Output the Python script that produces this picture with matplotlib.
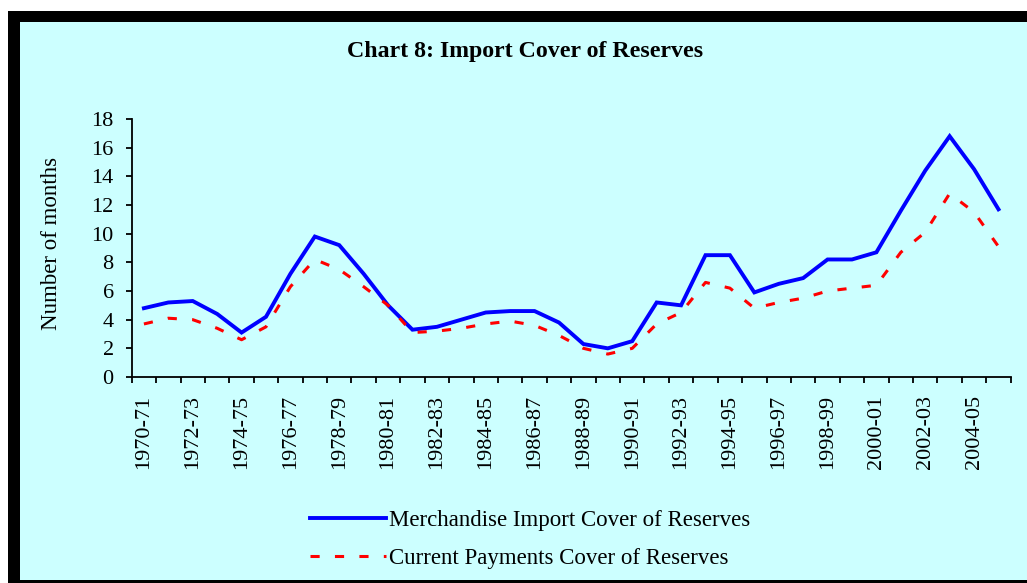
import numpy as np
import matplotlib
matplotlib.use('Agg')
import matplotlib.pyplot as plt
from matplotlib.patches import Rectangle

# fiscal years 1970-71 .. 2005-06
years = [f'{y}-{str(y + 1)[-2:]}' for y in range(1970, 2006)]

merchandise = [4.8, 5.2, 5.3, 4.4, 3.1, 4.2, 7.2, 9.8, 9.2, 7.2,
               5.0, 3.3, 3.5, 4.0, 4.5, 4.6, 4.6, 3.8, 2.3, 2.0,
               2.5, 5.2, 5.0, 8.5, 8.5, 5.9, 6.5, 6.9, 8.2, 8.2,
               8.7, 11.6, 14.4, 16.8, 14.5, 11.7]
current_payments = [3.7, 4.1, 4.0, 3.4, 2.6, 3.5, 6.3, 8.2, 7.5, 6.3,
                    5.0, 3.1, 3.2, 3.4, 3.7, 3.9, 3.6, 2.9, 2.0, 1.6,
                    2.0, 3.7, 4.5, 6.6, 6.2, 4.8, 5.2, 5.5, 6.0, 6.2,
                    6.4, 8.7, 10.1, 12.8, 11.5, 9.1]

bg = '#CCFFFF'
plt.rcParams['font.family'] = ['Liberation Serif', 'DejaVu Serif']

fig = plt.figure(figsize=(10.27, 5.83), dpi=100, facecolor='white')

# black frame of the screenshot
fig.patches.append(Rectangle((8 / 1027, 0), 1, 572 / 583, transform=fig.transFigure,
                             facecolor='black', edgecolor='none', zorder=-2))
fig.patches.append(Rectangle((20 / 1027, 3 / 583), 1, (583 - 22 - 3) / 583,
                             transform=fig.transFigure, facecolor=bg,
                             edgecolor='none', zorder=-1))

ax = fig.add_axes([131.7 / 1027, 1 - 377 / 583, 879 / 1027, 258 / 583])
ax.set_facecolor(bg)
ax.patch.set_alpha(0)

x = np.arange(len(years))
ax.plot(x, merchandise, color='#0000FF', lw=2.8, solid_joinstyle='miter',
        label='Merchandise Import Cover of Reserves')
ax.plot(x, current_payments, color='#FF0000', lw=2.2, dashes=(3, 5),
        label='Current Payments Cover of Reserves')

ax.set_xlim(-0.5, len(years) - 0.5)
ax.set_ylim(0, 18)
ax.set_yticks(range(0, 19, 2))
ax.tick_params(axis='y', direction='out', length=4, width=1.3, labelsize=16, pad=9)

ax.set_xticks(np.arange(-0.5, len(years), 1))
ax.set_xticklabels([])
ax.tick_params(axis='x', which='major', direction='out', length=4.5, width=1.3)
ax.set_xticks(x[::2], minor=True)
ax.set_xticklabels(years[::2], minor=True, rotation=90, fontsize=16)
ax.tick_params(axis='x', which='minor', length=0, pad=13)

for s in ['top', 'right']:
    ax.spines[s].set_visible(False)
for s in ['left', 'bottom']:
    ax.spines[s].set_linewidth(1.3)

ax.set_ylabel('Number of months', fontsize=16.5)
ax.yaxis.set_label_coords(-0.079, 0.516)

fig.text(525 / 1027, 1 - 52 / 583, 'Chart 8: Import Cover of Reserves',
         ha='center', va='center', fontsize=17.2, fontweight='bold')

fig.legend(loc='upper left', bbox_to_anchor=(310 / 1027, 1 - 510 / 583),
           frameon=False, fontsize=16.5, handlelength=3.3, handletextpad=0.15,
           labelspacing=0.75, borderpad=0, borderaxespad=0)

fig.savefig('out.png', dpi=100, facecolor=fig.get_facecolor())
